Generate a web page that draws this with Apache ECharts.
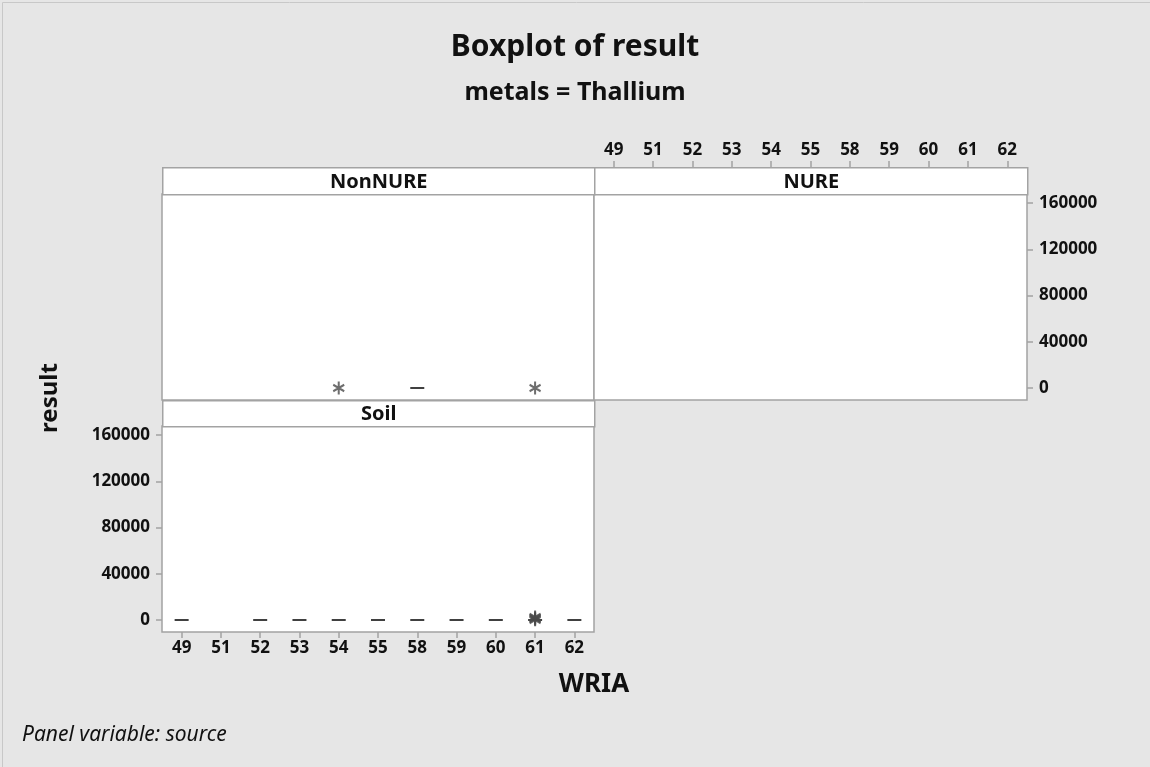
<!DOCTYPE html>
<html>
<head>
<meta charset="utf-8">
<script src="https://cdn.jsdelivr.net/npm/echarts@6/dist/echarts.min.js"></script>
<style>
html,body{margin:0;padding:0;background:#e6e6e6;}
#chart{width:1150px;height:767px;}
</style>
</head>
<body>
<div id="chart"></div>
<script>
// ---- data ----
const categories = ['49','51','52','53','54','55','58','59','60','61','62'];
const yTicks = [0, 40000, 80000, 120000, 160000];
const panelNames = ['NonNURE', 'NURE', 'Soil'];
// box summaries: [WRIA, min, Q1, median, Q3, max]
const nonNureBoxes = [
  ['58', 2, 2, 2, 2, 2]
];
// outliers: [WRIA, value]
const nonNureOutliers = [
  ['54', 2],
  ['61', 2]
];
const soilBoxes = [
  ['49', 2, 2, 2, 2, 2],
  ['52', 2, 2, 2, 2, 2],
  ['53', 2, 2, 2, 2, 2],
  ['54', 2, 2, 2, 2, 2],
  ['55', 2, 2, 2, 2, 2],
  ['58', 2, 2, 2, 2, 2],
  ['59', 2, 2, 2, 2, 2],
  ['60', 2, 2, 2, 2, 2],
  ['61', 2, 2, 2, 2, 2],
  ['62', 2, 2, 2, 2, 2]
];
const soilOutliers = [
  ['61', 100],
  ['61', 900],
  ['61', 1800],
  ['61', 2600]
];

const yMin = -10400, yMax = 167800;
const FONT = 'Noto Sans';
const gridColor = '#a3a3a3';
const markColor = '#404040';
const asterisk = 'path://M0,-6L0,6M-5.2,-3L5.2,3M-5.2,3L5.2,-3';

const chart = echarts.init(document.getElementById('chart'));

function xAxis(gridIndex, show, position, offset) {
  return {
    type: 'category', gridIndex: gridIndex, data: categories,
    position: position, offset: offset || 0, boundaryGap: true,
    axisLine: { show: false, onZero: false },
    axisTick: { show: show, alignWithLabel: true, length: 6, lineStyle: { color: gridColor, width: 1.5 } },
    axisLabel: { show: show, color: '#111', fontFamily: FONT, fontWeight: 'bold', fontSize: 17, margin: 8 },
    splitLine: { show: false }
  };
}
function yAxis(gridIndex, show, position) {
  return {
    type: 'value', gridIndex: gridIndex, min: yMin, max: yMax, position: position,
    axisLine: { show: false, onZero: false },
    axisTick: { show: show, length: 6, customValues: yTicks, lineStyle: { color: gridColor, width: 1.5 } },
    axisLabel: { show: show, customValues: yTicks, formatter: function (v) { return String(v); },
      color: '#111', fontFamily: FONT, fontWeight: 'bold', fontSize: 17, margin: 12 },
    splitLine: { show: false }
  };
}

const boxStyle = { color: 'transparent', borderColor: markColor, borderWidth: 2 };
const outStyle = { color: 'transparent', borderColor: '#4a4a4a', borderWidth: 2.2 };

function strip(left, top, width, height, text) {
  return {
    type: 'group', left: left, top: top,
    children: [
      { type: 'rect', shape: { x: 0, y: 0, width: width, height: height },
        style: { fill: '#fff', stroke: gridColor, lineWidth: 1.5 } },
      { type: 'text', x: width / 2, y: height / 2 + 1,
        style: { text: text, fill: '#111', font: 'bold 20px "' + FONT + '"', align: 'center', verticalAlign: 'middle' } }
    ]
  };
}

chart.setOption({
  backgroundColor: '#e6e6e6',
  animation: false,
  title: [
    { text: 'Boxplot of result', left: 'center', top: 27,
      textStyle: { fontFamily: FONT, fontWeight: 'bold', fontSize: 30, color: '#111' } },
    { text: 'metals = Thallium', left: 'center', top: 75,
      textStyle: { fontFamily: FONT, fontWeight: 'bold', fontSize: 25, color: '#111' } }
  ],
  grid: [
    { left: 162, top: 194, width: 432, height: 206, show: true, backgroundColor: '#fff', borderColor: gridColor, borderWidth: 1.5 },
    { left: 594, top: 194, width: 433, height: 206, show: true, backgroundColor: '#fff', borderColor: gridColor, borderWidth: 1.5 },
    { left: 162, top: 426, width: 432, height: 206, show: true, backgroundColor: '#fff', borderColor: gridColor, borderWidth: 1.5 }
  ],
  xAxis: [
    xAxis(0, false, 'bottom'),
    xAxis(1, true, 'top', 27),
    xAxis(2, true, 'bottom')
  ],
  yAxis: [
    yAxis(0, false, 'left'),
    yAxis(1, true, 'right'),
    yAxis(2, true, 'left')
  ],
  series: [
    { type: 'boxplot', name: panelNames[0], xAxisIndex: 0, yAxisIndex: 0,
      data: nonNureBoxes, encode: { x: 0, y: [1, 2, 3, 4, 5] },
      boxWidth: [14, 14], itemStyle: boxStyle, silent: true },
    { type: 'scatter', name: panelNames[0] + ' outliers', xAxisIndex: 0, yAxisIndex: 0,
      data: nonNureOutliers, symbol: asterisk, symbolSize: [11, 13], itemStyle: outStyle, silent: true },
    { type: 'boxplot', name: panelNames[2], xAxisIndex: 2, yAxisIndex: 2,
      data: soilBoxes, encode: { x: 0, y: [1, 2, 3, 4, 5] },
      boxWidth: [14, 14], itemStyle: boxStyle, silent: true },
    { type: 'scatter', name: panelNames[2] + ' outliers', xAxisIndex: 2, yAxisIndex: 2,
      data: soilOutliers, symbol: asterisk, symbolSize: [11, 13], itemStyle: outStyle, silent: true }
  ],
  graphic: [
    { type: 'rect', left: 0, top: 0, shape: { x: 0.5, y: 0.5, width: 1148, height: 765 },
      style: { fill: 'none', stroke: '#c8c8c8', lineWidth: 1 }, silent: true },
    strip(162, 167, 432, 27, panelNames[0]),
    strip(594, 167, 433, 27, panelNames[1]),
    strip(162, 400, 432, 26, panelNames[2]),
    { type: 'text', x: 50, y: 398, rotation: Math.PI / 2,
      style: { text: 'result', fill: '#111', font: 'bold 24px "' + FONT + '"', align: 'center', verticalAlign: 'middle' } },
    { type: 'text', x: 594, y: 685,
      style: { text: 'WRIA', fill: '#111', font: 'bold 26px "' + FONT + '"', align: 'center', verticalAlign: 'middle' } },
    { type: 'text', x: 22, y: 735,
      style: { text: 'Panel variable: source', fill: '#111', font: 'italic 21px "' + FONT + '"', align: 'left', verticalAlign: 'middle' } }
  ]
});
</script>
</body>
</html>
